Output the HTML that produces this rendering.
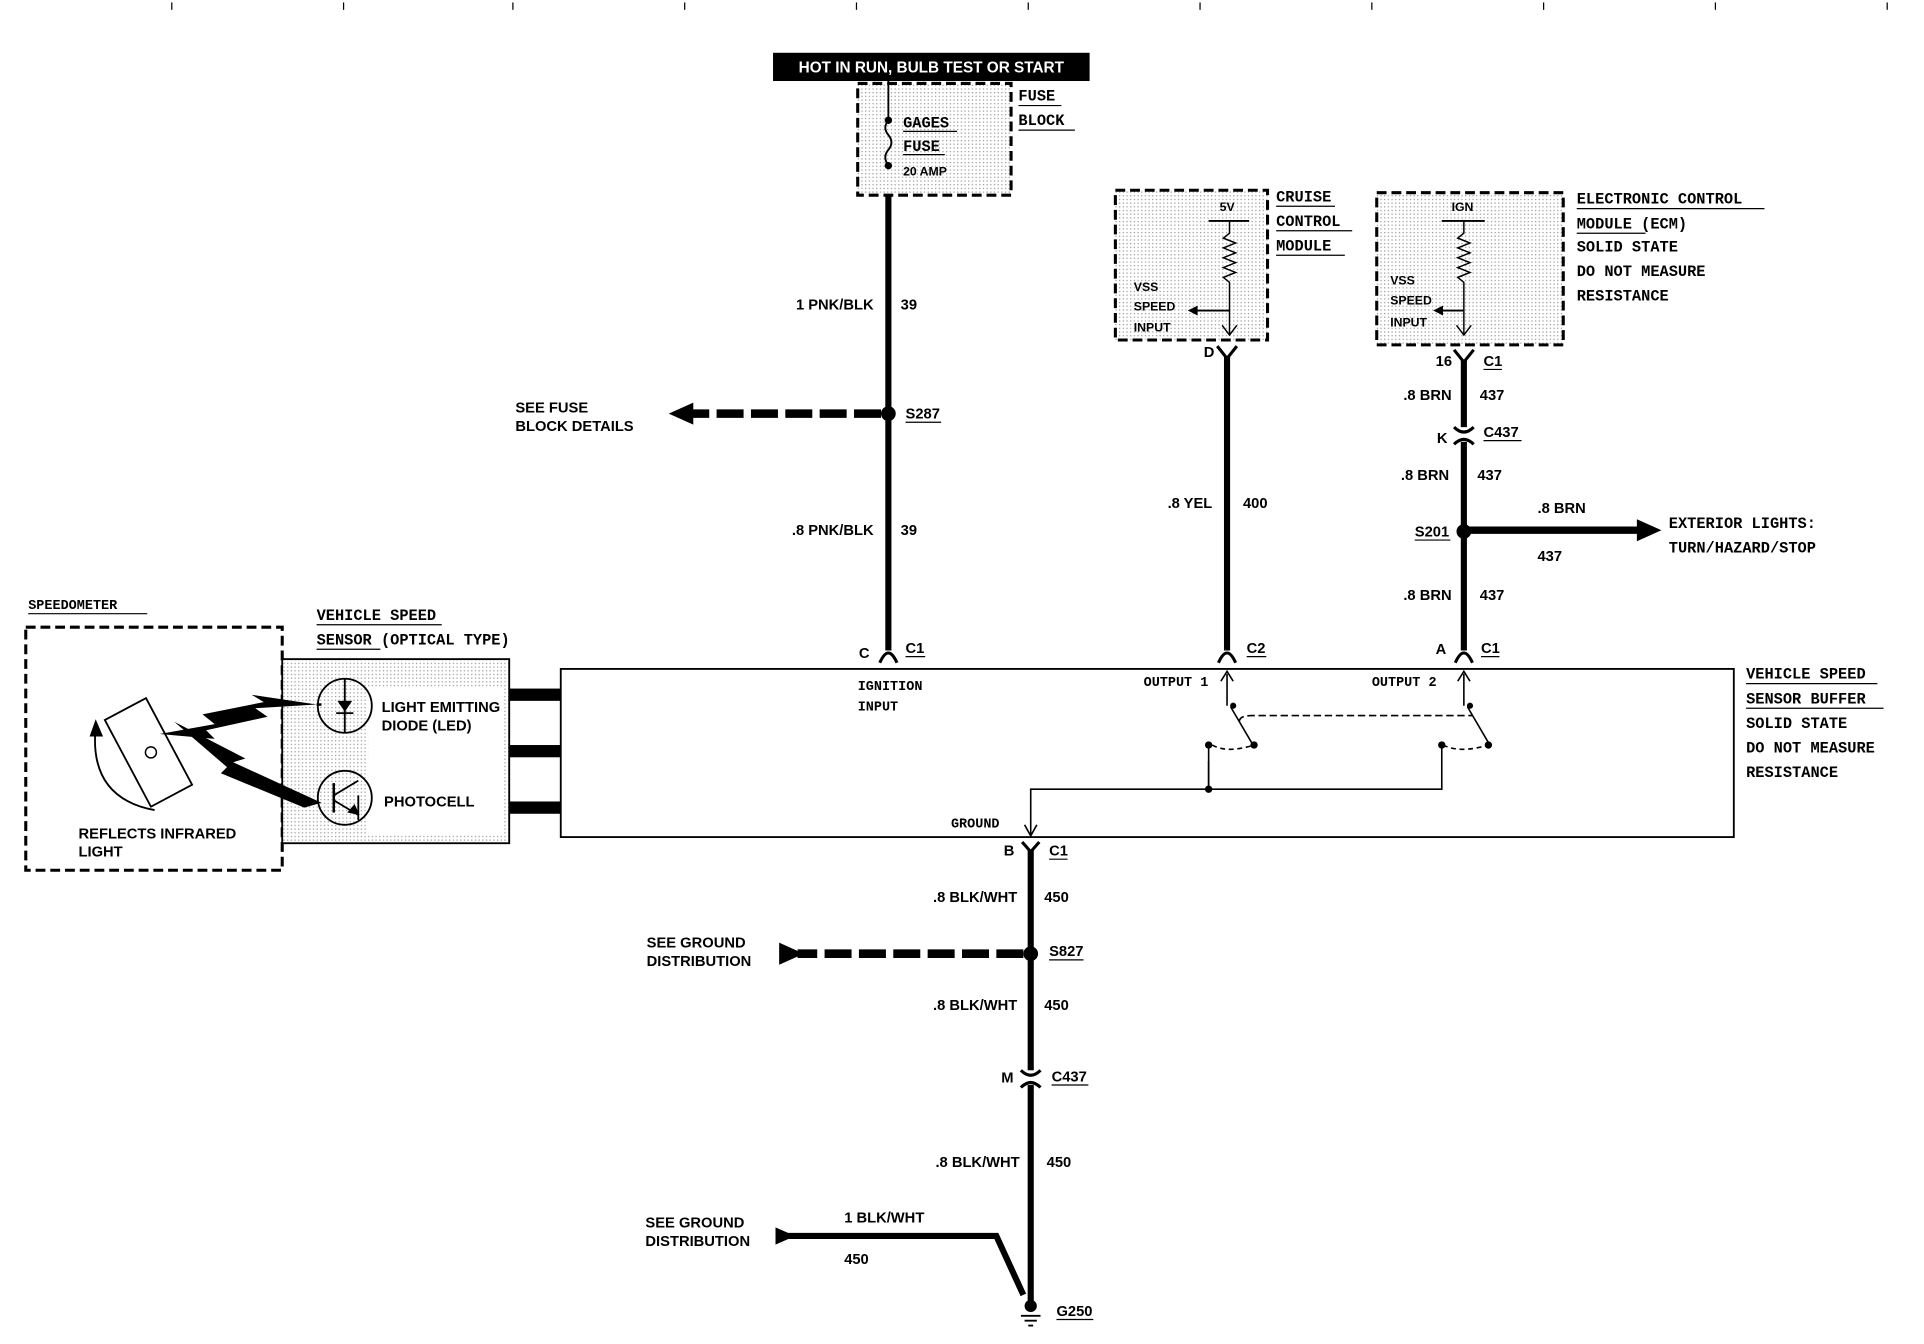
<!DOCTYPE html>
<html><head><meta charset="utf-8"><style>
html,body{margin:0;padding:0;background:#fff;}
svg{display:block;}
text{font-family:"Liberation Sans",sans-serif;font-weight:bold;font-size:12px;fill:#000;}
.m{font-family:"Liberation Mono",monospace;font-size:12.5px;}
</style></head><body>
<svg width="1924" height="1344" viewBox="0 0 1568 1095" preserveAspectRatio="none" xmlns="http://www.w3.org/2000/svg">
<defs>
<pattern id="dots" width="3" height="3" patternUnits="userSpaceOnUse"><rect width="3" height="3" fill="#fff"/><rect width="1" height="1" fill="#999"/></pattern>
</defs>
<g stroke="#000" stroke-width="1">
<line x1="140" y1="2" x2="140" y2="8"/><line x1="280" y1="2" x2="280" y2="8"/><line x1="418" y1="2" x2="418" y2="8"/><line x1="558" y1="2" x2="558" y2="8"/><line x1="698" y1="2" x2="698" y2="8"/><line x1="838" y1="2" x2="838" y2="8"/><line x1="978" y1="2" x2="978" y2="8"/><line x1="1118" y1="2" x2="1118" y2="8"/><line x1="1258" y1="2" x2="1258" y2="8"/><line x1="1398" y1="2" x2="1398" y2="8"/><line x1="1538" y1="2" x2="1538" y2="8"/>
</g>
<!-- top label -->
<rect x="630" y="43" width="258" height="23" fill="#000"/>
<text x="759" y="59" text-anchor="middle" style="fill:#fff;font-size:12.5px">HOT IN RUN, BULB TEST OR START</text>
<!-- fuse block -->
<rect x="699" y="68" width="125" height="91" fill="url(#dots)" stroke="#000" stroke-width="2.5" stroke-dasharray="8,4"/>
<line x1="724" y1="66" x2="724" y2="98" stroke="#000" stroke-width="1.5"/>
<path d="M724 98 q-5 6 0 12 q5 6 0 12 q-5 6 0 13" fill="none" stroke="#000" stroke-width="1.5"/>
<circle cx="724" cy="98" r="3"/><circle cx="724" cy="135" r="3"/>
<text class="m" x="736" y="104">GAGES</text><line x1="736" y1="107" x2="780" y2="107" stroke="#000"/>
<text class="m" x="736" y="123">FUSE</text><line x1="736" y1="126" x2="770" y2="126" stroke="#000"/>
<text x="736" y="143" style="font-size:10px">20 AMP</text>
<text class="m" x="830" y="82">FUSE</text><line x1="830" y1="86" x2="865" y2="86" stroke="#000"/>
<text class="m" x="830" y="102">BLOCK</text><line x1="830" y1="106" x2="876" y2="106" stroke="#000"/>
<!-- wire 39 -->
<line x1="724" y1="159" x2="724" y2="530" stroke="#000" stroke-width="5"/>
<text x="712" y="252" text-anchor="end">1 PNK/BLK</text><text x="734" y="252">39</text>
<circle cx="724" cy="337" r="6"/><text x="738" y="341">S287</text><line x1="738" y1="344" x2="767" y2="344" stroke="#000"/>
<line x1="718" y1="337" x2="560" y2="337" stroke="#000" stroke-width="7" stroke-dasharray="22,6"/>
<polygon points="545,337 565,328 565,346"/>
<text x="420" y="336">SEE FUSE</text><text x="420" y="351">BLOCK DETAILS</text>
<text x="712" y="436" text-anchor="end">.8 PNK/BLK</text><text x="734" y="436">39</text>
<path d="M717 540 Q724 524 731 540" fill="none" stroke="#000" stroke-width="2.5"/>
<text x="700" y="536">C</text><text x="738" y="532">C1</text><line x1="738" y1="535" x2="754" y2="535" stroke="#000"/>
<!-- buffer box -->
<rect x="457" y="545" width="956" height="137" fill="none" stroke="#000" stroke-width="1.5"/>
<text class="m" x="699" y="562" style="font-size:11px">IGNITION</text><text class="m" x="699" y="579" style="font-size:11px">INPUT</text>
<!-- cruise module -->
<rect x="909" y="155" width="124" height="122" fill="url(#dots)" stroke="#000" stroke-width="2.5" stroke-dasharray="8,4"/>
<text x="994" y="172" style="font-size:10px">5V</text>
<line x1="985" y1="180" x2="1018" y2="180" stroke="#000" stroke-width="1.5"/>
<polyline points="1002,180 1002,190 997,194 1007,198 997,202 1007,206 997,210 1007,214 997,218 1007,222 997,226 1002,230 1002,272" fill="none" stroke="#000" stroke-width="1.2"/>
<polyline points="996,265 1002,273 1008,265" fill="none" stroke="#000" stroke-width="1.2"/>
<line x1="1002" y1="253" x2="972" y2="253" stroke="#000" stroke-width="1.5"/><polygon points="968,253 976,249 976,257"/>
<text x="924" y="237" style="font-size:10px">VSS</text><text x="924" y="253" style="font-size:10px">SPEED</text><text x="924" y="270" style="font-size:10px">INPUT</text>
<text class="m" x="1040" y="164">CRUISE</text><line x1="1040" y1="168" x2="1088" y2="168" stroke="#000"/>
<text class="m" x="1040" y="184">CONTROL</text><line x1="1040" y1="188" x2="1102" y2="188" stroke="#000"/>
<text class="m" x="1040" y="204">MODULE</text><line x1="1040" y1="208" x2="1096" y2="208" stroke="#000"/>
<path d="M992 282 L1000 292 L1008 282" fill="none" stroke="#000" stroke-width="2.5"/>
<text x="981" y="291">D</text>
<line x1="1000" y1="290" x2="1000" y2="530" stroke="#000" stroke-width="5"/>
<text x="988" y="414" text-anchor="end">.8 YEL</text><text x="1013" y="414">400</text>
<path d="M993 540 Q1000 524 1007 540" fill="none" stroke="#000" stroke-width="2.5"/>
<text x="1016" y="532">C2</text><line x1="1016" y1="535" x2="1032" y2="535" stroke="#000"/>
<!-- ECM -->
<rect x="1122" y="157" width="152" height="124" fill="url(#dots)" stroke="#000" stroke-width="2.5" stroke-dasharray="8,4"/>
<text x="1183" y="172" style="font-size:10px">IGN</text>
<line x1="1175" y1="180" x2="1210" y2="180" stroke="#000" stroke-width="1.5"/>
<polyline points="1193,180 1193,190 1188,194 1198,198 1188,202 1198,206 1188,210 1198,214 1188,218 1198,222 1188,226 1193,230 1193,272" fill="none" stroke="#000" stroke-width="1.2"/>
<polyline points="1187,265 1193,273 1199,265" fill="none" stroke="#000" stroke-width="1.2"/>
<line x1="1193" y1="253" x2="1172" y2="253" stroke="#000" stroke-width="1.5"/><polygon points="1168,253 1176,249 1176,257"/>
<text x="1133" y="232" style="font-size:10px">VSS</text><text x="1133" y="248" style="font-size:10px">SPEED</text><text x="1133" y="266" style="font-size:10px">INPUT</text>
<text class="m" x="1285" y="166">ELECTRONIC CONTROL</text><line x1="1285" y1="170" x2="1438" y2="170" stroke="#000"/>
<text class="m" x="1285" y="186">MODULE (ECM)</text><line x1="1285" y1="190" x2="1341" y2="190" stroke="#000"/>
<text class="m" x="1285" y="205">SOLID STATE</text>
<text class="m" x="1285" y="225">DO NOT MEASURE</text>
<text class="m" x="1285" y="245">RESISTANCE</text>
<path d="M1185 285 L1193 295 L1201 285" fill="none" stroke="#000" stroke-width="2.5"/>
<line x1="1193" y1="293" x2="1193" y2="530" stroke="#000" stroke-width="5"/>
<text x="1170" y="298">16</text><text x="1209" y="298">C1</text><line x1="1209" y1="301" x2="1224" y2="301" stroke="#000"/>
<text x="1183" y="326" text-anchor="end">.8 BRN</text><text x="1206" y="326">437</text>
<rect x="1185" y="348" width="16" height="12" fill="#fff"/>
<path d="M1185 348 Q1193 356 1201 348 M1185 362 Q1193 354 1201 362" fill="none" stroke="#000" stroke-width="2.5"/>
<text x="1171" y="361">K</text><text x="1209" y="356">C437</text><line x1="1209" y1="359" x2="1240" y2="359" stroke="#000"/>
<text x="1181" y="391" text-anchor="end">.8 BRN</text><text x="1204" y="391">437</text>
<circle cx="1193" cy="433" r="6"/><text x="1153" y="437">S201</text><line x1="1153" y1="440" x2="1182" y2="440" stroke="#000"/>
<line x1="1193" y1="432" x2="1336" y2="432" stroke="#000" stroke-width="6"/><polygon points="1354,432 1334,423 1334,441"/>
<text x="1253" y="418">.8 BRN</text><text x="1253" y="457">437</text>
<text class="m" x="1360" y="430">EXTERIOR LIGHTS:</text><text class="m" x="1360" y="450">TURN/HAZARD/STOP</text>
<text x="1183" y="489" text-anchor="end">.8 BRN</text><text x="1206" y="489">437</text>
<path d="M1186 540 Q1193 524 1200 540" fill="none" stroke="#000" stroke-width="2.5"/>
<text x="1170" y="533">A</text><text x="1207" y="532">C1</text><line x1="1207" y1="535" x2="1222" y2="535" stroke="#000"/>
<!-- inside box -->
<text class="m" x="932" y="559" style="font-size:11px">OUTPUT 1</text>
<text class="m" x="1118" y="559" style="font-size:11px">OUTPUT 2</text>
<g stroke="#000" stroke-width="1.3" fill="none">
<line x1="1000" y1="575" x2="1000" y2="549"/><polyline points="995,555 1000,547 1005,555"/>
<line x1="1193" y1="575" x2="1193" y2="549"/><polyline points="1188,555 1193,547 1198,555"/>
<line x1="1003" y1="576" x2="1020" y2="605"/><line x1="1196" y1="576" x2="1213" y2="605"/>
<path d="M1010 588 Q1010 583 1020 583 L1200 583" stroke-dasharray="6,3"/>
<path d="M988 607 Q1000 614 1022 607" stroke-dasharray="4,3"/>
<path d="M1176 607 Q1190 614 1213 607" stroke-dasharray="4,3"/>
<polyline points="985,607 985,643 1175,643 1175,607"/>
<polyline points="985,643 985,620"/>
<polyline points="985,643 840,643 840,680"/>
<polyline points="835,672 840,681 845,672"/>
</g>
<g><circle cx="1005" cy="575" r="2.5"/><circle cx="1198" cy="575" r="2.5"/><circle cx="985" cy="607" r="3"/><circle cx="1022" cy="607" r="3"/><circle cx="1175" cy="607" r="3"/><circle cx="1213" cy="607" r="3"/><circle cx="985" cy="643" r="3"/></g>
<text class="m" x="775" y="674" style="font-size:11px">GROUND</text>
<text class="m" x="1423" y="553">VEHICLE SPEED</text><line x1="1423" y1="557" x2="1530" y2="557" stroke="#000"/>
<text class="m" x="1423" y="573">SENSOR BUFFER</text><line x1="1423" y1="577" x2="1535" y2="577" stroke="#000"/>
<text class="m" x="1423" y="593">SOLID STATE</text>
<text class="m" x="1423" y="613">DO NOT MEASURE</text>
<text class="m" x="1423" y="633">RESISTANCE</text>
<!-- ground wire -->
<path d="M833 686 L840 694 L847 686" fill="none" stroke="#000" stroke-width="2.5"/>
<line x1="840" y1="692" x2="840" y2="1062" stroke="#000" stroke-width="5"/>
<text x="818" y="697">B</text><text x="855" y="697">C1</text><line x1="855" y1="700" x2="870" y2="700" stroke="#000"/>
<text x="829" y="735" text-anchor="end">.8 BLK/WHT</text><text x="851" y="735">450</text>
<circle cx="840" cy="777" r="6"/><text x="855" y="779">S827</text><line x1="855" y1="782" x2="883" y2="782" stroke="#000"/>
<line x1="834" y1="777" x2="650" y2="777" stroke="#000" stroke-width="7" stroke-dasharray="22,6"/>
<polygon points="635,768 655,777 635,786"/>
<text x="527" y="772">SEE GROUND</text><text x="527" y="787">DISTRIBUTION</text>
<text x="829" y="823" text-anchor="end">.8 BLK/WHT</text><text x="851" y="823">450</text>
<rect x="832" y="872" width="16" height="12" fill="#fff"/>
<path d="M832 872 Q840 880 848 872 M832 886 Q840 878 848 886" fill="none" stroke="#000" stroke-width="2.5"/>
<text x="816" y="882">M</text><text x="857" y="881">C437</text><line x1="857" y1="884" x2="887" y2="884" stroke="#000"/>
<text x="831" y="951" text-anchor="end">.8 BLK/WHT</text><text x="853" y="951">450</text>
<polyline points="640,1007 812,1007 834,1055" fill="none" stroke="#000" stroke-width="5"/>
<polygon points="632,1000 648,1007 632,1014"/>
<text x="688" y="996">1 BLK/WHT</text><text x="688" y="1030">450</text>
<text x="526" y="1000">SEE GROUND</text><text x="526" y="1015">DISTRIBUTION</text>
<circle cx="840" cy="1064" r="5"/>
<g stroke="#000" stroke-width="1.5"><line x1="832" y1="1072" x2="848" y2="1072"/><line x1="835" y1="1076" x2="845" y2="1076"/><line x1="838" y1="1080" x2="842" y2="1080"/></g>
<text x="861" y="1072">G250</text><line x1="861" y1="1075" x2="891" y2="1075" stroke="#000"/>
<!-- speedometer -->
<text class="m" x="23" y="496" style="font-size:11px">SPEEDOMETER</text><line x1="23" y1="500" x2="120" y2="500" stroke="#000"/>
<rect x="21" y="511" width="209" height="198" fill="none" stroke="#000" stroke-width="2.5" stroke-dasharray="8,4"/>
<rect x="102" y="573" width="38" height="80" fill="#fff" stroke="#000" stroke-width="1.5" transform="rotate(-28 121 613)"/>
<circle cx="123" cy="613" r="4.5" fill="none" stroke="#000" stroke-width="1.2"/>
<path d="M126 660 Q72 650 78 592" fill="none" stroke="#000" stroke-width="1.5"/><polygon points="78,586 73,600 84,600"/>
<text x="64" y="683">REFLECTS INFRARED</text><text x="64" y="698">LIGHT</text>
<!-- sensor -->
<text class="m" x="258" y="505">VEHICLE SPEED</text><line x1="258" y1="509" x2="360" y2="509" stroke="#000"/>
<text class="m" x="258" y="525">SENSOR (OPTICAL TYPE)</text><line x1="258" y1="529" x2="310" y2="529" stroke="#000"/>
<rect x="230" y="537" width="185" height="150" fill="url(#dots)" stroke="#000" stroke-width="1.5"/>
<rect x="300" y="560" width="110" height="120" fill="#fff"/>
<circle cx="281" cy="575" r="22" fill="none" stroke="#000" stroke-width="1.5"/>
<line x1="281" y1="553" x2="281" y2="597" stroke="#000" stroke-width="1.5"/>
<polygon points="275,571 287,571 281,580"/><line x1="274" y1="581" x2="288" y2="581" stroke="#000" stroke-width="1.5"/>
<circle cx="281" cy="650" r="22" fill="none" stroke="#000" stroke-width="1.5"/>
<line x1="272" y1="638" x2="272" y2="662" stroke="#000" stroke-width="2"/>
<line x1="272" y1="648" x2="292" y2="636" stroke="#000" stroke-width="1.5"/>
<line x1="272" y1="652" x2="292" y2="664" stroke="#000" stroke-width="1.5"/>
<polygon points="293,664 283,662 289,655"/>
<line x1="292" y1="648" x2="292" y2="668" stroke="#000" stroke-width="1.5"/>
<text x="311" y="580">LIGHT EMITTING</text><text x="311" y="595">DIODE (LED)</text>
<text x="313" y="657">PHOTOCELL</text>
<polygon points="130,598 175,590 165,582 215,572 205,566 258,574 208,577 218,584 168,595 175,602" />
<polygon points="142,588 200,618 190,621 262,654 248,658 180,630 185,625" />
<line x1="258" y1="574" x2="262" y2="574" stroke="#000" stroke-width="2"/>
<!-- connector bars -->
<rect x="415" y="561" width="42" height="10" fill="#000"/>
<rect x="415" y="607" width="42" height="10" fill="#000"/>
<rect x="415" y="653" width="42" height="10" fill="#000"/>
</svg>
</body></html>
